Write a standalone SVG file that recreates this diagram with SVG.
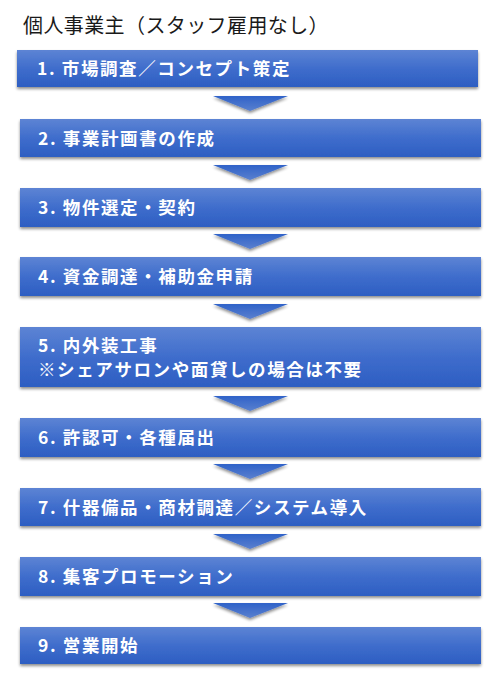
<svg xmlns="http://www.w3.org/2000/svg" width="500" height="684" viewBox="0 0 500 684">
<defs>
<linearGradient id="boxg" x1="0" y1="0" x2="0" y2="1">
<stop offset="0" stop-color="#5d84d4"/>
<stop offset="0.5" stop-color="#3f6dcc"/>
<stop offset="1" stop-color="#2d5ec2"/>
</linearGradient>
<linearGradient id="arrg" x1="0" y1="0" x2="0" y2="1">
<stop offset="0" stop-color="#2f62c8"/>
<stop offset="1" stop-color="#5a80cf"/>
</linearGradient>
<filter id="sh" x="-5%" y="-20%" width="110%" height="160%">
<feGaussianBlur in="SourceAlpha" stdDeviation="1.5"/>
<feOffset dx="0" dy="2" result="b"/>
<feComponentTransfer><feFuncA type="linear" slope="0.45"/></feComponentTransfer>
<feMerge><feMergeNode/><feMergeNode in="SourceGraphic"/></feMerge>
</filter>
</defs>
<style>
.box{fill:url(#boxg);filter:url(#sh);}
.lbl{font-family:"Noto Sans CJK JP","Liberation Sans",sans-serif;font-weight:bold;font-size:17.5px;fill:#ffffff;letter-spacing:1.6px;}
.arr{fill:url(#arrg);filter:url(#sh);}
.title{font-family:"Noto Sans CJK JP","Liberation Sans",sans-serif;font-size:20px;fill:#1a1a1a;letter-spacing:0.4px;}
</style>
<rect width="500" height="684" fill="#ffffff"/>
<text class="title" x="23" y="33">個人事業主（スタッフ雇用なし）</text>
<g id="connectors">
<polygon class="arr" points="213,96 288,96 250,111"/>
<polygon class="arr" points="213,165 288,165 250,180"/>
<polygon class="arr" points="213,234 288,234 250,249"/>
<polygon class="arr" points="213,304 288,304 250,319"/>
<polygon class="arr" points="213,396 288,396 250,411"/>
<polygon class="arr" points="213,464 288,464 250,479"/>
<polygon class="arr" points="213,534 288,534 250,549"/>
<polygon class="arr" points="213,603 288,603 250,618"/>
</g>
<g id="n1"><rect class="box" x="17" y="50" width="461" height="37"/><text class="lbl" x="37" y="75">1. 市場調査／コンセプト策定</text></g>
<g id="n2"><rect class="box" x="20" y="119" width="461" height="38"/><text class="lbl" x="38" y="145">2. 事業計画書の作成</text></g>
<g id="n3"><rect class="box" x="20" y="188" width="461" height="39"/><text class="lbl" x="38" y="214">3. 物件選定・契約</text></g>
<g id="n4"><rect class="box" x="20" y="257" width="461" height="39"/><text class="lbl" x="38" y="283">4. 資金調達・補助金申請</text></g>
<g id="n5"><rect class="box" x="20" y="327" width="461" height="60"/><text class="lbl" x="38" y="352">5. 内外装工事</text><text class="lbl" x="38" y="376">※シェアサロンや面貸しの場合は不要</text></g>
<g id="n6"><rect class="box" x="20" y="418" width="461" height="39"/><text class="lbl" x="38" y="444">6. 許認可・各種届出</text></g>
<g id="n7"><rect class="box" x="20" y="488" width="461" height="38"/><text class="lbl" x="38" y="514">7. 什器備品・商材調達／システム導入</text></g>
<g id="n8"><rect class="box" x="20" y="557" width="461" height="39"/><text class="lbl" x="38" y="583">8. 集客プロモーション</text></g>
<g id="n9"><rect class="box" x="20" y="627" width="461" height="37"/><text class="lbl" x="38" y="652">9. 営業開始</text></g>
</svg>
